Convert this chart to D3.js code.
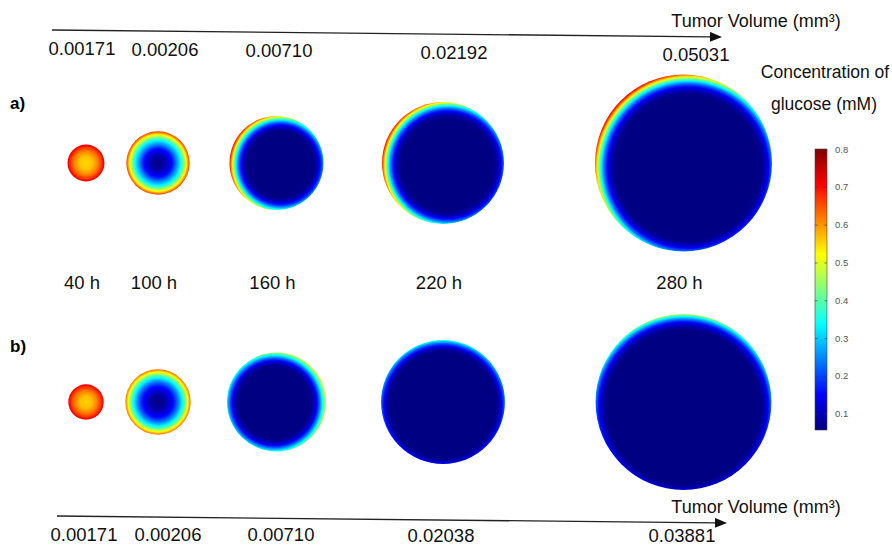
<!DOCTYPE html>
<html><head><meta charset="utf-8">
<script src="https://cdn.jsdelivr.net/npm/d3@7"></script>
<style>
html,body{margin:0;padding:0;background:#fff;}
svg{display:block;font-family:"Liberation Sans",Arial,Helvetica,sans-serif;}
</style></head><body>
<svg id="fig" width="892" height="547"></svg>
<script>
// ---- data ----
// simulation times (h)
const hours = [40, 100, 160, 220, 280];
// tumour volume (mm³) at each time, case a) and case b)
const volumeA = ["0.00171", "0.00206", "0.00710", "0.02192", "0.05031"];
const volumeB = ["0.00171", "0.00206", "0.00710", "0.02038", "0.03881"];
// section radius relative to the largest section
const sizeA = [0.209, 0.358, 0.531, 0.689, 1.0];
const sizeB = [0.200, 0.369, 0.559, 0.700, 0.994];
// glucose (mM) along the nutrient-field radius: [rho (0 centre .. 1 rim), mM]
const profileA = [
  [[0, 0.55], [0.35, 0.565], [0.65, 0.615], [0.88, 0.68], [1, 0.73]],
  [[0, 0.06], [0.2, 0.08], [0.45, 0.16], [0.6, 0.26], [0.71, 0.33], [0.8, 0.42], [0.9, 0.53], [0.95, 0.6], [1, 0.67]],
  [[0, 0.06], [0.649, 0.06], [0.727, 0.1], [0.805, 0.2], [0.844, 0.28], [0.883, 0.36], [0.922, 0.48], [0.961, 0.6], [1, 0.72]],
  [[0, 0.06], [0.697, 0.06], [0.772, 0.09], [0.833, 0.18], [0.879, 0.28], [0.909, 0.37], [0.939, 0.48], [0.970, 0.6], [1, 0.72]],
  [[0, 0.06], [0.747, 0.06], [0.789, 0.07], [0.842, 0.13], [0.884, 0.23], [0.916, 0.34], [0.937, 0.43], [0.958, 0.53], [0.979, 0.64], [1, 0.74]]
];
const profileB = [
  [[0, 0.555], [0.35, 0.57], [0.65, 0.62], [0.88, 0.68], [1, 0.725]],
  [[0, 0.06], [0.22, 0.08], [0.48, 0.16], [0.63, 0.25], [0.75, 0.34], [0.84, 0.43], [0.92, 0.53], [1, 0.63]],
  [[0, 0.06], [0.671, 0.06], [0.729, 0.07], [0.807, 0.13], [0.865, 0.22], [0.923, 0.33], [0.961, 0.42], [1, 0.5]],
  [[0, 0.06], [0.8, 0.06], [0.846, 0.07], [0.892, 0.12], [0.938, 0.2], [0.969, 0.27], [1, 0.36]],
  [[0, 0.06], [0.828, 0.06], [0.86, 0.08], [0.903, 0.13], [0.935, 0.21], [0.957, 0.28], [0.978, 0.36], [1, 0.47]]
];
// colour bar
const barTicks = [0.1, 0.2, 0.3, 0.4, 0.5, 0.6, 0.7, 0.8];
const cMin = 0.057, cMax = 0.8;

// ---- layout ----
const svg = d3.select("#fig");
const defs = svg.append("defs");

const col = d3.scaleLinear().domain(hours).range([86, 158, 276.5, 443, 683.5]);
const rowY = { a: 163, b: 402 };
const rScale = d3.scaleLinear().domain([0, 1]).range([0, 88.5]);
// offset of the nutrient-field centre from the section centre (px)
const fieldShift = {
  a: [[0, 0], [0, 0], [4, 1.5], [4.5, 2], [4.5, 4.5]],
  b: [[0, 0], [0, 0], [-2, 1], [0, 3], [0, 5]]
};

// jet colour map over the concentration range
const jetT = [0, 0.125, 0.375, 0.625, 0.875, 1];
const color = d3.scaleLinear()
  .domain(jetT.map(t => cMin + t * (cMax - cMin)))
  .range(["#00007f", "#0000ff", "#00ffff", "#ffff00", "#ff0000", "#7f0000"])
  .clamp(true);

function drawRow(key, sizes, profiles) {
  const g = svg.append("g").attr("class", "row-" + key);
  hours.forEach((h, i) => {
    const cx = col(h), cy = rowY[key], r = rScale(sizes[i]);
    const [sx, sy] = fieldShift[key][i];
    const R = r + Math.hypot(sx, sy);
    const prof = d3.scaleLinear()
      .domain(profiles[i].map(p => p[0]))
      .range(profiles[i].map(p => p[1]));
    const id = `glc-${key}-${i}`;
    const grad = defs.append("radialGradient")
      .attr("id", id)
      .attr("gradientUnits", "userSpaceOnUse")
      .attr("cx", cx + sx).attr("cy", cy + sy).attr("r", R)
      .attr("fx", cx + sx).attr("fy", cy + sy);
    grad.selectAll("stop").data(d3.range(0, 1.0001, 1 / 80)).join("stop")
      .attr("offset", d => d)
      .attr("stop-color", d => color(prof(d)));
    g.append("circle")
      .attr("cx", cx).attr("cy", cy).attr("r", r)
      .attr("fill", `url(#${id})`);
  });
}
drawRow("a", sizeA, profileA);
drawRow("b", sizeB, profileB);

// panel letters
svg.append("text").attr("x", 10).attr("y", 109).attr("font-size", 17)
  .attr("font-weight", "bold").text("a)");
svg.append("text").attr("x", 10).attr("y", 352).attr("font-size", 17)
  .attr("font-weight", "bold").text("b)");

// time labels
svg.append("g").selectAll("text").data(hours).join("text")
  .attr("x", d => col(d) - 4).attr("y", 288.5)
  .attr("text-anchor", "middle").attr("font-size", 18.5).attr("fill", "#111")
  .text(d => d + " h");

// volume arrows
defs.append("marker").attr("id", "head")
  .attr("markerUnits", "userSpaceOnUse")
  .attr("markerWidth", 12).attr("markerHeight", 10)
  .attr("refX", 0).attr("refY", 5).attr("orient", "auto")
  .append("path").attr("d", "M0,0L12,5L0,10Z").attr("fill", "#111");

function volumeAxis(x0, y0, x1, y1, volumes, labelX, labelY, titleY) {
  const slope = (y1 - y0) / (x1 - x0);
  const end = x1 - 12;
  svg.append("line")
    .attr("x1", x0).attr("y1", y0)
    .attr("x2", end).attr("y2", y0 + slope * (end - x0))
    .attr("stroke", "#222").attr("stroke-width", 1.3)
    .attr("marker-end", "url(#head)");
  svg.append("g").selectAll("text").data(volumes).join("text")
    .attr("x", (d, i) => labelX[i])
    .attr("y", (d, i) => labelY(labelX[i]))
    .attr("text-anchor", "middle").attr("font-size", 18.5).attr("fill", "#111")
    .text(d => d);
  svg.append("text").attr("x", 756).attr("y", titleY)
    .attr("text-anchor", "middle").attr("font-size", 18).attr("fill", "#111")
    .text("Tumor Volume (mm³)");
}
volumeAxis(52, 30, 722, 37, volumeA, [82, 165, 279, 454, 696],
  d3.scaleLinear().domain([52, 722]).range([55, 61]), 27);
volumeAxis(57, 516, 727, 523, volumeB, [84, 168, 281, 441, 682],
  d3.scaleLinear().domain([57, 727]).range([540.5, 542.5]), 513);

// colour bar
const barX = 815, barW = 12;
const yBar = d3.scaleLinear().domain([cMin, cMax]).range([430, 149]);
const lg = defs.append("linearGradient").attr("id", "bar")
  .attr("x1", 0).attr("y1", 1).attr("x2", 0).attr("y2", 0);
lg.selectAll("stop").data(d3.range(0, 1.0001, 1 / 40)).join("stop")
  .attr("offset", d => d)
  .attr("stop-color", d => color(cMin + d * (cMax - cMin)));
svg.append("rect")
  .attr("x", barX).attr("y", yBar(cMax))
  .attr("width", barW).attr("height", yBar(cMin) - yBar(cMax))
  .attr("fill", "url(#bar)").attr("stroke", "#444").attr("stroke-width", 0.6);

const axR = svg.append("g").attr("transform", `translate(${barX + barW},0)`)
  .call(d3.axisRight(yBar).tickValues(barTicks).tickSize(-2.5).tickPadding(8)
    .tickFormat(d3.format(".1f")));
axR.select(".domain").remove();
axR.selectAll("line").attr("stroke", "#333").attr("stroke-opacity", 0.6);
axR.selectAll("text").attr("font-size", 9.5).attr("fill", "#555")
  .attr("font-family", "'Liberation Sans',Arial,sans-serif");
const axL = svg.append("g").attr("transform", `translate(${barX},0)`)
  .call(d3.axisLeft(yBar).tickValues(barTicks).tickSize(-2.5).tickFormat(""));
axL.select(".domain").remove();
axL.selectAll("line").attr("stroke", "#333").attr("stroke-opacity", 0.6);

svg.append("text").attr("x", 825).attr("y", 77.5).attr("text-anchor", "middle")
  .attr("font-size", 17.5).attr("fill", "#111").text("Concentration of");
svg.append("text").attr("x", 824).attr("y", 109.5).attr("text-anchor", "middle")
  .attr("font-size", 17.5).attr("fill", "#111").text("glucose (mM)");
</script>
</body></html>
